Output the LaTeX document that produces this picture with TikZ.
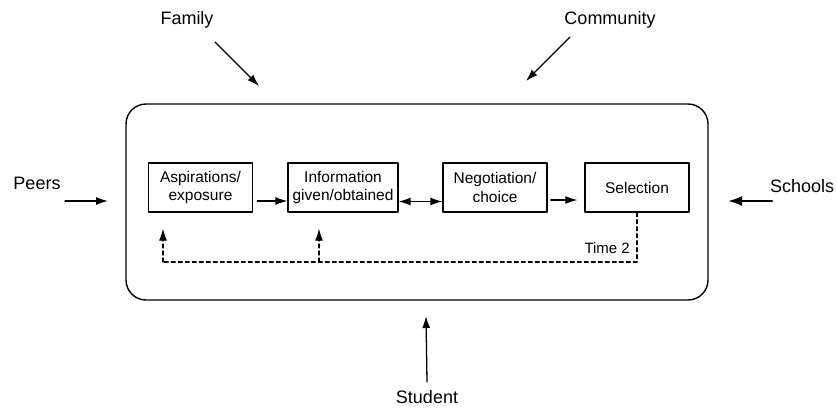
\documentclass[tikz,border=0pt]{standalone}
\usepackage{fontspec}
\setmainfont{Liberation Sans}
\usepackage{tikz}
\usetikzlibrary{arrows.meta,positioning}

\tikzset{
  stagebox/.style={draw, line width=1.4pt, minimum width=104pt, minimum height=49pt,
    align=center, inner sep=0pt, font=\fontsize{15.5}{18.5}\selectfont},
  influence/.style={inner sep=0pt, font=\fontsize{18}{20}\selectfont},
  feedback/.style={dashed, dash pattern=on 4pt off 3pt, line width=1.1pt},
}

\begin{document}
\begin{tikzpicture}[x=1pt, y=-1pt, >={Latex[length=12pt,width=8pt]}, line cap=round, line join=round]
		\useasboundingbox (0,0) rectangle (837,407);

		% the frame round the stages
		\draw[line width=1.4pt, rounded corners=20pt] (126,104) rectangle (708,300);
		\coordinate (frame) at (417,202);

		% stages
		\node[stagebox] (asp) at (200.5,187.5) {Aspirations/\\exposure};
		\node[stagebox, minimum width=110pt] (info) at (343,187.5) {Information\\given/obtained};
		\node[stagebox] (nego) at (495,187.5) {Negotiation/\\choice};
		\node[stagebox] (sel) at (637,187.5) {Selection};

		\draw[->, line width=1.1pt] ([xshift=4pt, yshift=-13.5pt]asp.east) -- ([yshift=-13.5pt]info.west);
		\draw[<->, line width=1.1pt] ([yshift=-14pt]info.east) -- ([yshift=-14pt]nego.west);
		\draw[->, line width=1.1pt] ([xshift=3pt, yshift=-12.5pt]nego.east) -- ([xshift=-7pt, yshift=-12.5pt]sel.west);

		% time 2 feedback
		\coordinate (back) at (637,262);
		\coordinate (backasp) at (163,262);
		\coordinate (backinfo) at (319,262);
		\draw[feedback] (sel.south) -- (back) -- (backasp);
		\draw[feedback, ->] (backasp) -- ([yshift=-16pt]asp.south -| backasp);
		\draw[feedback, ->] (backinfo) -- ([yshift=-16pt]info.south -| backinfo);
		\node[anchor=east, inner sep=0pt, font=\fontsize{15}{17}\selectfont] (time) at (630,248) {Time 2};

		% influences from outside
		\node[influence] (family) at (187,20) {Family};
		\node[influence] (community) at (610,20) {Community};
		\node[influence] (peers) at (37,183) {Peers};
		\node[influence, anchor=west] (schools) at (770,186) {Schools};
		\node[influence] (student) at (427,397) {Student};

		\coordinate (famtip) at (259,86);
		\coordinate (comtip) at (526,81);
		\coordinate (peertip) at (108,201);
		\coordinate (schooltip) at (728,201);
		\coordinate (studtip) at (426,316);

		\draw[->, line width=1.3pt] ([shift={(28pt,-22pt)}]family.center) -- (famtip);
		\draw[->, line width=1.3pt] ([shift={(-40pt,-17pt)}]community.center) -- (comtip);
		\draw[->, line width=1.3pt] ([shift={(28pt,-18pt)}]peers.center) -- (peertip);
		\draw[-{Latex[length=14pt,width=10pt]}, line width=2.2pt] ([shift={(2pt,-15pt)}]schools.west) -- (schooltip);
		\draw[->, line width=1.3pt] ([yshift=15pt]student.center) -- (studtip);
	\end{tikzpicture}
\end{document}
